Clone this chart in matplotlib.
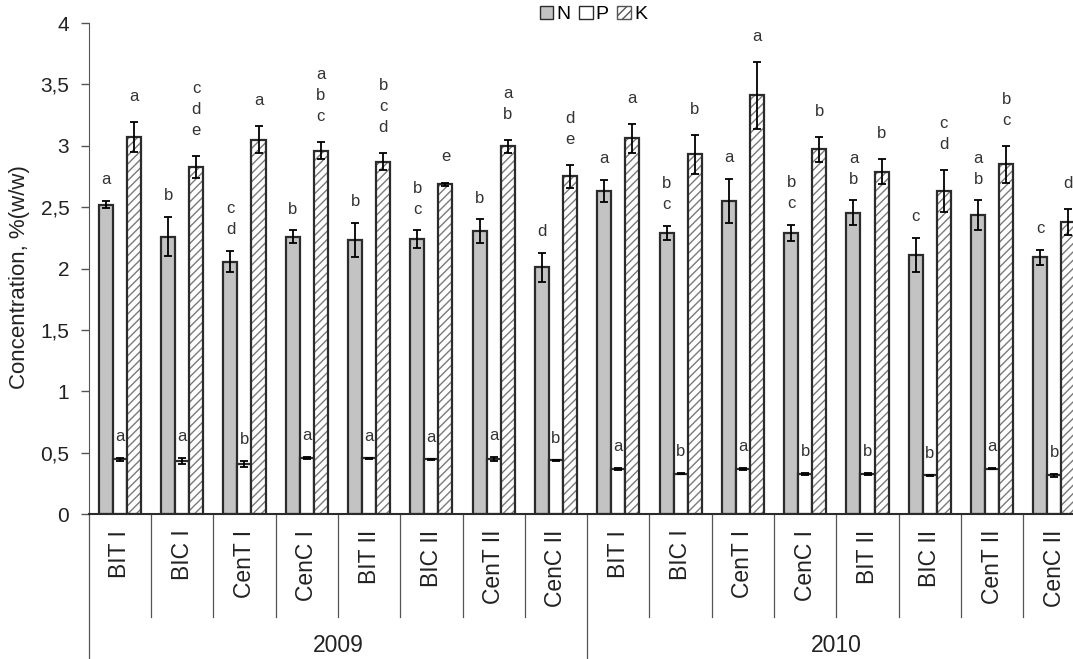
import matplotlib as mpl
mpl.use('Agg')
import matplotlib.pyplot as plt
import matplotlib.patches as mpatches
import matplotlib.transforms as mtransforms
import numpy as np

plt.rcParams['font.family'] = ['Liberation Sans', 'DejaVu Sans']

# treatments and years
treatments = ['BIT I', 'BIC I', 'CenT I', 'CenC I', 'BIT II', 'BIC II', 'CenT II', 'CenC II']
years = ['2009', '2010']
categories = treatments + treatments

# mean concentrations, %(w/w)
n_vals = [2.52, 2.26, 2.055, 2.26, 2.23, 2.24, 2.305, 2.01,
          2.63, 2.29, 2.55, 2.29, 2.455, 2.11, 2.435, 2.09]
p_vals = [0.445, 0.435, 0.405, 0.454, 0.454, 0.448, 0.448, 0.437,
          0.367, 0.33, 0.365, 0.326, 0.326, 0.315, 0.37, 0.315]
k_vals = [3.07, 2.83, 3.05, 2.96, 2.87, 2.686, 2.995, 2.75,
          3.06, 2.93, 3.41, 2.97, 2.79, 2.63, 2.85, 2.38]

# standard errors
n_err = [0.03, 0.16, 0.085, 0.05, 0.14, 0.07, 0.095, 0.12,
         0.09, 0.06, 0.18, 0.065, 0.10, 0.14, 0.12, 0.06]
p_err = [0.012, 0.025, 0.025, 0.008, 0.004, 0.004, 0.014, 0.004,
         0.006, 0.002, 0.008, 0.006, 0.006, 0.004, 0.002, 0.012]
k_err = [0.12, 0.09, 0.11, 0.07, 0.07, 0.015, 0.055, 0.09,
         0.12, 0.16, 0.27, 0.10, 0.105, 0.17, 0.15, 0.105]

# significance letters
n_letters = ['a', 'b', 'cd', 'b', 'b', 'bc', 'b', 'd',
             'a', 'bc', 'a', 'bc', 'ab', 'c', 'ab', 'c']
p_letters = ['a', 'a', 'b', 'a', 'a', 'a', 'a', 'b',
             'a', 'b', 'a', 'b', 'b', 'b', 'a', 'b']
k_letters = ['a', 'cde', 'a', 'abc', 'bcd', 'e', 'ab', 'de',
             'a', 'b', 'a', 'b', 'b', 'cd', 'bc', 'd']

dark = '#2b2b2b'
txt = '#222222'
fig = plt.figure(figsize=(10.73, 6.59), dpi=100)
ax = fig.add_axes([0.0827, 0.22, 0.929, 0.745])

x = np.arange(len(categories)) + 0.5
w = 0.225
ekw = dict(ecolor='black', elinewidth=1.3, capsize=3, capthick=1.3)

ax.bar(x - w, n_vals, w, color='#c3c3c3', edgecolor=dark, linewidth=1.6,
       yerr=n_err, error_kw=ekw, zorder=2)
ax.bar(x, p_vals, w, color='white', edgecolor=dark, linewidth=1.6,
       yerr=p_err, error_kw=ekw, zorder=2)
# hatched K bars: hatch in grey, outline in dark
ax.bar(x + w, k_vals, w, color='white', edgecolor='#7a7a7a', linewidth=0,
       hatch='////', zorder=2)
ax.bar(x + w, k_vals, w, fill=False, edgecolor=dark, linewidth=1.6,
       yerr=k_err, error_kw=ekw, zorder=3)

# letters above bars
for vals, errs, letters, off, dy in [(n_vals, n_err, n_letters, -w, 10),
                                     (p_vals, p_err, p_letters, 0, 10),
                                     (k_vals, k_err, k_letters, w, 13)]:
    for i in range(len(categories)):
        ax.annotate('\n'.join(letters[i]), (x[i] + off, vals[i] + errs[i]),
                    xytext=(0, dy), textcoords='offset points',
                    ha='center', va='bottom', fontsize=12, color='#333333',
                    linespacing=1.5)

ax.set_xlim(0, len(categories))
ax.set_ylim(0, 4)
ax.set_yticks(np.arange(0, 4.01, 0.5))
ax.set_yticklabels(['0', '0,5', '1', '1,5', '2', '2,5', '3', '3,5', '4'])
ax.tick_params(axis='y', direction='out', length=6, width=1, colors='#555555',
               labelsize=15, labelcolor=txt, pad=8)
ax.set_xticks([])
for s in ['top', 'right']:
    ax.spines[s].set_visible(False)
ax.spines['left'].set_color('#555555')
ax.spines['bottom'].set_color(dark)
ax.spines['bottom'].set_linewidth(1.5)
fig.text(20 / 1073, 1 - 277 / 659, 'Concentration, %(w/w)', rotation=90,
         ha='center', va='center', fontsize=16, color=txt)

# two-level category axis
trans = mtransforms.blended_transform_factory(ax.transData, ax.transAxes)
for i, cat in enumerate(categories):
    ax.text(x[i], -0.032, cat, transform=trans, rotation=90, ha='center', va='top',
            fontsize=16.5, color=txt)
for i in range(1, len(categories) + 1):
    if i % len(treatments) == 0:
        continue
    ax.plot([i, i], [0, -0.21], transform=trans, color='#555555', lw=0.9, clip_on=False)
for j, yr in enumerate(years):
    ax.plot([j * 8, j * 8], [0, -0.3], transform=trans, color='#555555', lw=0.9,
            clip_on=False)
    ax.text(j * 8 + 4, -0.267, yr, transform=trans, ha='center', va='center',
            fontsize=16.5, color=txt)

handles = [mpatches.Patch(facecolor='#c3c3c3', edgecolor=dark, label='N'),
           mpatches.Patch(facecolor='white', edgecolor=dark, label='P'),
           mpatches.Patch(facecolor='white', edgecolor='#555555', hatch='////', label='K')]
fig.legend(handles=handles, loc='upper center', bbox_to_anchor=(0.553, 1.018), ncol=3,
           frameon=False, fontsize=14, handlelength=0.7, handleheight=0.7,
           handletextpad=0.15, columnspacing=0.45)

fig.savefig('out.png', dpi=100)
